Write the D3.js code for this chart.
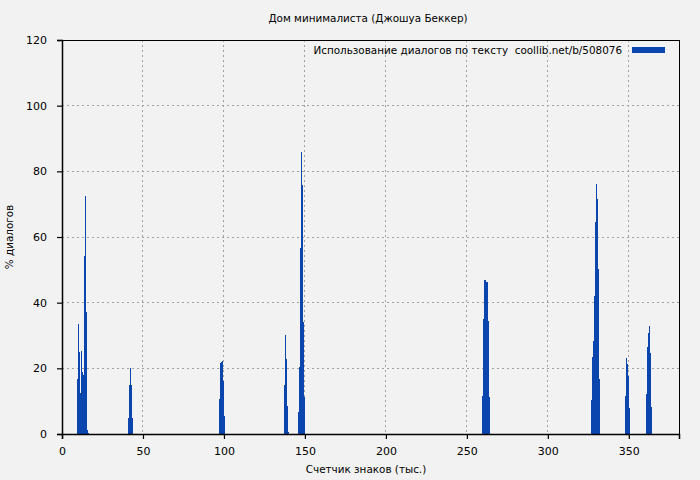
<!DOCTYPE html>
<html>
<head>
<meta charset="utf-8">
<script src="https://cdn.jsdelivr.net/npm/d3@7"></script>
<style>
  body { margin: 0; background: #f2f2f2; }
  text { font-family: "DejaVu Sans", sans-serif; fill: #000; }
</style>
</head>
<body>
<div id="chart"></div>
<script>
// chart values
const chartTitle = 'Дом минималиста (Джошуа Беккер)';
const legendLabel = 'Использование диалогов по тексту  coollib.net/b/508076';
const xLabel = 'Счетчик знаков (тыс.)';
const yLabel = '% диалогов';
const xTicks = [0, 50, 100, 150, 200, 250, 300, 350];
const yTicks = [0, 20, 40, 60, 80, 100, 120];
const barStep = 0.617; // thousands of chars per sample

// position of each sample (thousands of chars)
const charCount = [
  9.26, 9.88, 10.49, 11.11, 11.73, 12.35, 12.96, 13.58, 14.2, 14.81, 15.43, 16.05,
  40.74, 41.36, 41.98, 42.59, 43.21,
  96.91, 97.53, 98.15, 98.77, 99.38, 100.0,
  137.04, 137.65, 138.27, 138.89, 139.51,
  145.68, 146.3, 146.91, 147.53, 148.15, 148.77, 149.38,
  259.26, 259.88, 260.49, 261.11, 261.73, 262.35, 262.96, 263.58,
  326.54, 327.16, 327.78, 328.4, 329.01, 329.63, 330.25, 330.86, 331.48,
  347.53, 348.15, 348.77, 349.38, 350.0,
  360.49, 361.11, 361.73, 362.35, 362.96, 363.58
];
// share of dialogue at each sample (%)
const dialogPct = [
  16.8, 33.5, 25, 12.6, 25.2, 18.9, 17.9, 54.2, 72.5, 37.1, 1.2, 0.3,
  4.9, 14.9, 20, 14.9, 4.9,
  10.7, 21.7, 22, 22.3, 16.2, 5.5,
  14.9, 30.2, 22.8, 8.5, 0.6,
  6.7, 20.4, 56.7, 85.9, 75.8, 34.1, 11.3,
  11.6, 35, 46.9, 46.9, 46.3, 46.3, 34.4, 11.3,
  10.4, 23.5, 28.3, 42, 64.6, 76.2, 71.6, 50.3, 16.8,
  11.6, 23.1, 21.3, 17.7, 8,
  12.2, 26.5, 30.8, 32.9, 24.7, 8.2
];

const width = 700, height = 480;
const margin = { top: 40, right: 21, bottom: 46, left: 62 };

const svg = d3.select('#chart').append('svg')
  .attr('width', width)
  .attr('height', height);

svg.append('rect')
  .attr('width', width).attr('height', height)
  .attr('fill', '#f2f2f2');

const x = d3.scaleLinear().domain([0, 381]).range([margin.left, width - margin.right]);
const y = d3.scaleLinear().domain([0, 120]).range([height - margin.bottom, margin.top]);

// grid
const grid = svg.append('g')
  .attr('stroke', '#a0a0a0')
  .attr('stroke-dasharray', '2,3')
  .attr('shape-rendering', 'crispEdges');
grid.selectAll('.gx')
  .data(xTicks.slice(1))
  .enter().append('line')
  .attr('x1', d => x(d)).attr('x2', d => x(d))
  .attr('y1', y(120)).attr('y2', y(0));
grid.selectAll('.gy')
  .data(yTicks.slice(1, -1))
  .enter().append('line')
  .attr('x1', x(0)).attr('x2', x(381))
  .attr('y1', d => y(d)).attr('y2', d => y(d));

// bars
const barW = Math.max(1, Math.round(x(barStep) - x(0)));
svg.append('g')
  .attr('fill', '#0a46ad')
  .attr('shape-rendering', 'crispEdges')
  .selectAll('rect')
  .data(charCount.map((c, i) => ({ c, v: dialogPct[i] })))
  .enter().append('rect')
  .attr('x', d => Math.round(x(d.c)))
  .attr('width', barW)
  .attr('y', d => y(d.v))
  .attr('height', d => y(0) - y(d.v));

// frame
svg.append('rect')
  .attr('x', x(0)).attr('y', y(120))
  .attr('width', x(381) - x(0)).attr('height', y(0) - y(120))
  .attr('fill', 'none').attr('stroke', '#000')
  .attr('shape-rendering', 'crispEdges');

// axes
const xAxis = svg.append('g')
  .attr('transform', `translate(0,${y(0)})`)
  .call(d3.axisBottom(x).tickValues(xTicks).tickSize(5).tickPadding(8));
const yAxis = svg.append('g')
  .attr('transform', `translate(${x(0)},0)`)
  .call(d3.axisLeft(y).tickValues(yTicks).tickSize(5).tickPadding(10));
[xAxis, yAxis].forEach(a => {
  a.select('.domain').attr('stroke', '#000').attr('stroke-width', 1.5);
  a.selectAll('.tick line').attr('stroke', '#000').attr('stroke-width', 1.2);
  a.selectAll('.tick text')
    .style('font-family', '"DejaVu Sans", sans-serif')
    .style('font-size', '11px')
    .attr('fill', '#000');
});

// title and labels
svg.append('text')
  .attr('x', 368).attr('y', 22)
  .attr('text-anchor', 'middle')
  .style('font-size', '10.4px')
  .text(chartTitle);

svg.append('text')
  .attr('x', 366).attr('y', 473)
  .attr('text-anchor', 'middle')
  .style('font-size', '10.4px')
  .text(xLabel);

svg.append('text')
  .attr('transform', 'translate(13,237) rotate(-90)')
  .attr('text-anchor', 'middle')
  .style('font-size', '10.4px')
  .text(yLabel);

// legend
svg.append('text')
  .attr('x', 622).attr('y', 54)
  .attr('text-anchor', 'end')
  .style('font-size', '10.4px')
  .style('white-space', 'pre')
  .text(legendLabel);
svg.append('rect')
  .attr('x', 632).attr('y', 47)
  .attr('width', 33).attr('height', 6)
  .attr('fill', '#0a46ad');
</script>
</body>
</html>
